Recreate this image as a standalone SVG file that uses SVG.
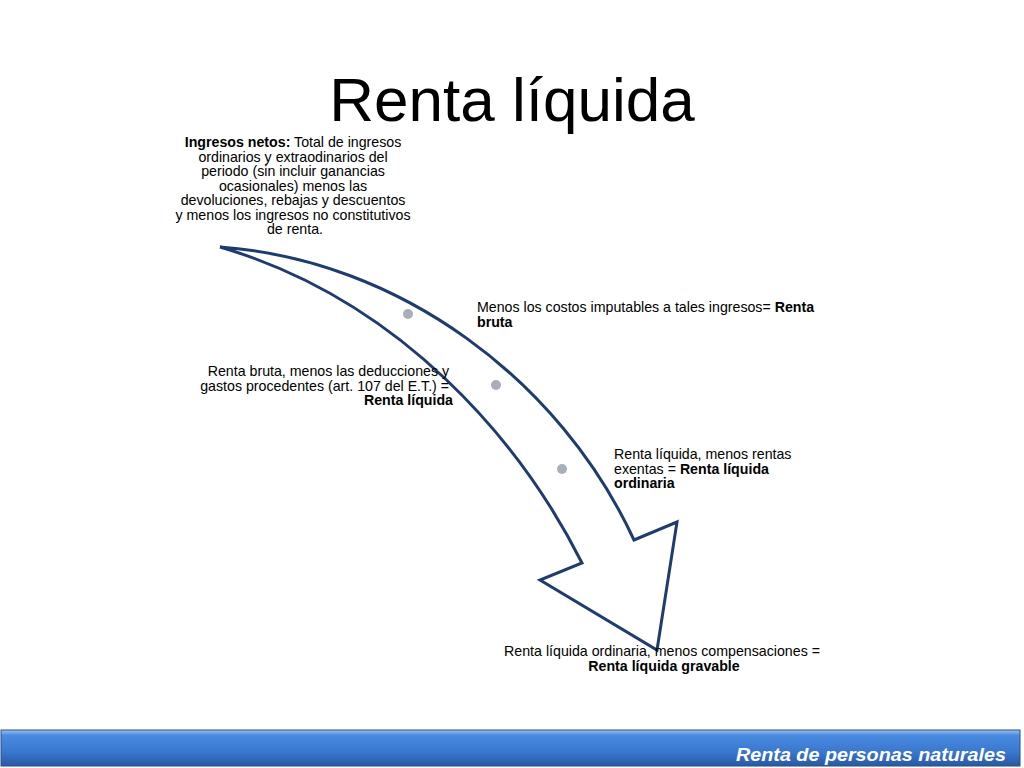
<svg xmlns="http://www.w3.org/2000/svg" width="1024" height="768" viewBox="0 0 1024 768">
<defs>
<linearGradient id="bar" x1="0" y1="0" x2="0" y2="1">
<stop offset="0" stop-color="#9cc3f0"/>
<stop offset="0.15" stop-color="#4a8ae0"/>
<stop offset="0.6" stop-color="#3a78d0"/>
<stop offset="1" stop-color="#2a58a0"/>
</linearGradient>
<style>
.t{font-family:"Liberation Sans",Arial,sans-serif;font-size:14.2px;fill:#000}
.b{font-weight:bold}
.dot{fill:#a9aebb}
</style>
</defs>
<rect width="1024" height="768" fill="#fff"/>
<text x="512" y="121" text-anchor="middle" font-family="Liberation Sans, Arial, sans-serif" font-size="62" fill="#000">Renta líquida</text>

<g id="connectors">
<path id="arrow" d="M220,247 C400,260 560,380 634,540 L677,522 L657,650 L540,580 L582,563 C520,440 400,300 220,247 Z" fill="#fff" stroke="#1f3c6e" stroke-width="3" stroke-linejoin="miter"/>
</g>

<g id="n1">
<text class="t" text-anchor="middle">
<tspan x="295" y="147"><tspan class="b">Ingresos netos:</tspan> Total de ingresos</tspan>
<tspan x="295" y="161.5">ordinarios y extraodinarios del</tspan>
<tspan x="295" y="176">periodo (sin incluir ganancias</tspan>
<tspan x="295" y="190.5">ocasionales) menos las</tspan>
<tspan x="295" y="205">devoluciones,  rebajas y descuentos</tspan>
<tspan x="295" y="219.5">y menos los ingresos no constitutivos</tspan>
<tspan x="295" y="234">de renta.</tspan>
</text>
</g>

<g id="n2">
<circle class="dot" cx="408" cy="314" r="5"/>
<text class="t">
<tspan x="477" y="312">Menos los costos imputables a tales ingresos= <tspan class="b">Renta</tspan></tspan>
<tspan x="477" y="326.5" class="b">bruta</tspan>
</text>
</g>

<g id="n3">
<circle class="dot" cx="496" cy="385" r="5"/>
<text class="t" text-anchor="end">
<tspan x="453" y="376">Renta bruta, menos las deducciones y</tspan>
<tspan x="453" y="390.5">gastos procedentes (art. 107 del E.T.) =</tspan>
<tspan x="453" y="405" class="b">Renta líquida</tspan>
</text>
</g>

<g id="n4">
<circle class="dot" cx="562" cy="469" r="5"/>
<text class="t">
<tspan x="614" y="459">Renta líquida, menos rentas</tspan>
<tspan x="614" y="473.5">exentas = <tspan class="b">Renta líquida</tspan></tspan>
<tspan x="614" y="488" class="b">ordinaria</tspan>
</text>
</g>

<g id="n5">
<text class="t" text-anchor="middle">
<tspan x="664" y="656">Renta líquida ordinaria, menos compensaciones =</tspan>
<tspan x="664" y="670.5" class="b">Renta líquida gravable</tspan>
</text>
</g>

<g id="footer">
<rect x="1" y="730" width="1019" height="36" fill="url(#bar)" stroke="#2a4f8a" stroke-width="1"/>
<text x="1006" y="761" text-anchor="end" font-family="Liberation Sans, Arial, sans-serif" font-size="19" font-weight="bold" font-style="italic" fill="#fff" textLength="270" lengthAdjust="spacingAndGlyphs">Renta de personas naturales</text>
</g>
</svg>
